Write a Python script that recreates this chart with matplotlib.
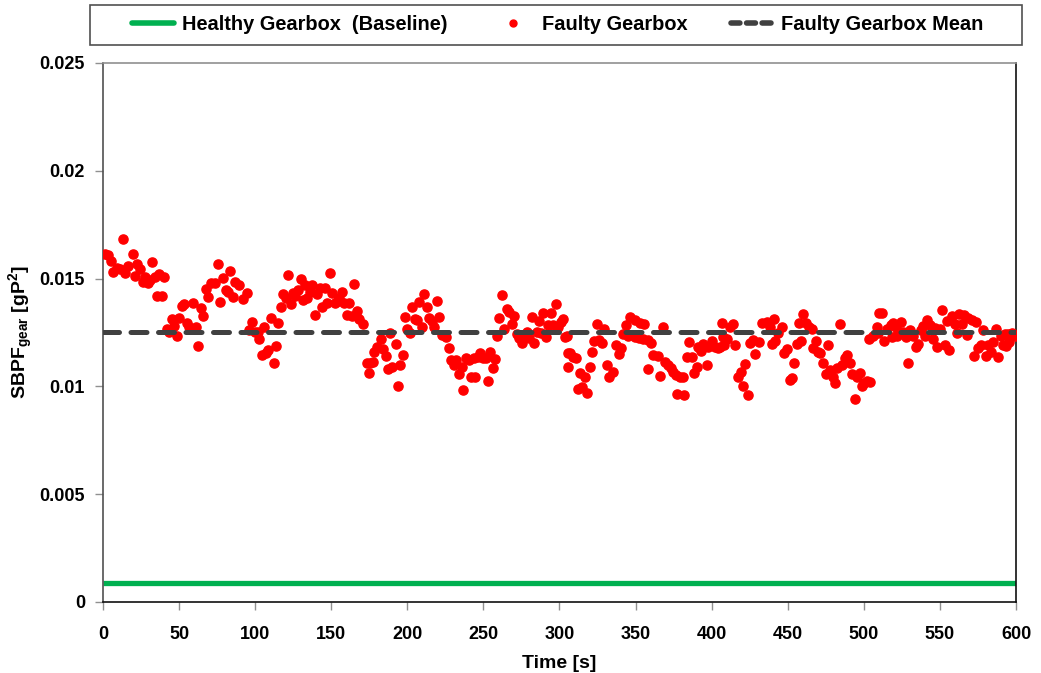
import numpy as np
import matplotlib
matplotlib.use("Agg")
import matplotlib.pyplot as plt
from matplotlib.lines import Line2D
from matplotlib.patches import Rectangle
from matplotlib import font_manager

# ─── Data ─────────────────────────────────────────────────────────────────────
HEALTHY_LEVEL = 0.0009

faulty_t = [
    1.3, 3.5, 5.3, 6.8, 9.0, 11.2, 12.9, 14.5, 16.7, 19.5, 21.0, 22.6, 24.3, 26.1, 27.6,
    29.8, 30.9, 32.4, 34.2, 35.3, 37.0, 38.6, 40.3, 41.8, 43.4, 45.1, 46.7, 48.4, 49.9,
    51.7, 53.5, 55.0, 56.7, 58.9, 60.9, 62.6, 64.2, 65.9, 67.7, 68.8, 70.8, 73.6, 75.4,
    76.9, 78.6, 80.8, 82.4, 83.5, 85.2, 86.8, 89.6, 91.8, 94.4, 95.9, 97.7, 99.9, 101.6,
    102.5, 104.3, 106.0, 106.9, 108.7, 110.4, 112.4, 113.7, 115.2, 117.0, 118.5, 120.1,
    121.8, 123.3, 124.7, 126.2, 127.9, 129.9, 131.7, 132.8, 134.3, 136.0, 137.6, 139.3,
    140.9, 142.6, 144.2, 145.9, 147.0, 149.0, 150.7, 152.5, 154.2, 155.3, 156.9, 158.6,
    160.1, 161.9, 163.4, 165.0, 166.7, 168.5, 171.1, 173.3, 174.8, 175.5, 177.7, 177.9,
    179.9, 182.5, 184.2, 185.8, 187.1, 188.6, 190.2, 192.3, 193.7, 195.2, 197.0, 198.5,
    200.0, 201.8, 203.3, 205.0, 206.5, 207.8, 209.8, 210.9, 212.7, 214.4, 215.9, 217.5,
    219.2, 220.8, 222.5, 225.1, 227.3, 228.6, 230.6, 231.7, 233.9, 235.7, 236.7, 238.3,
    240.7, 241.6, 243.8, 244.4, 246.6, 247.7, 249.5, 251.6, 252.7, 254.3, 256.0, 257.6,
    259.1, 260.4, 262.2, 263.7, 265.2, 267.0, 268.5, 270.3, 271.8, 273.6, 275.1, 276.8,
    278.4, 280.1, 281.7, 283.2, 285.0, 286.5, 287.8, 289.3, 291.1, 292.6, 294.4, 295.9,
    297.4, 299.2, 300.7, 302.5, 303.8, 304.7, 305.3, 305.7, 306.9, 309.1, 310.6, 311.9,
    313.5, 314.6, 316.7, 318.3, 320.0, 321.6, 322.9, 324.6, 326.2, 328.1, 329.4, 331.0,
    332.7, 335.4, 337.1, 339.1, 340.4, 341.9, 343.7, 344.8, 346.3, 349.6, 349.8, 352.2,
    352.9, 355.1, 355.5, 357.9, 358.4, 360.1, 361.6, 364.5, 366.0, 367.8, 369.3, 371.5,
    373.3, 374.8, 376.3, 377.4, 379.2, 381.4, 382.0, 383.6, 385.3, 386.8, 388.6, 390.1,
    391.2, 393.0, 394.5, 396.7, 397.8, 400.0, 402.2, 404.4, 405.5, 406.6, 407.7, 408.1,
    409.9, 412.1, 414.3, 415.4, 417.5, 419.1, 420.4, 421.9, 423.7, 425.2, 427.4, 428.5,
    431.3, 432.9, 436.2, 438.4, 439.5, 441.2, 441.6, 443.8, 446.0, 447.8, 449.3, 451.5,
    452.6, 454.1, 455.9, 457.4, 458.7, 460.3, 462.0, 464.2, 465.7, 466.8, 468.4, 469.7,
    471.2, 473.4, 475.2, 476.3, 477.8, 479.5, 481.1, 482.6, 484.4, 485.5, 487.6, 489.2,
    490.9, 492.0, 494.2, 495.8, 497.5, 498.6, 500.1, 501.9, 503.6, 504.0, 506.3, 508.5,
    509.6, 510.2, 511.7, 513.2, 515.0, 517.6, 518.2, 519.3, 521.1, 521.5, 522.6, 524.4,
    525.9, 527.7, 529.2, 530.3, 532.5, 534.0, 535.3, 537.3, 538.6, 540.1, 541.7, 543.4,
    545.2, 546.7, 548.2, 550.0, 551.5, 553.3, 554.8, 556.1, 557.7, 559.9, 561.4, 562.7,
    564.2, 565.8, 567.5, 568.6, 570.8, 572.3, 573.7, 575.2, 576.7, 578.5, 580.2, 581.8,
    583.3, 585.0, 586.6, 588.1, 589.9, 591.6, 592.7, 593.4, 594.9, 595.6, 597.1, 599.3,
]

faulty_v = [
    0.01613, 0.01609, 0.01583, 0.01532, 0.01548, 0.01543, 0.01682, 0.01524, 0.01558,
    0.01613, 0.01512, 0.01566, 0.01543, 0.01486, 0.01509, 0.01481, 0.01493, 0.01575,
    0.01509, 0.01421, 0.01521, 0.01421, 0.01506, 0.01265, 0.01254, 0.01311, 0.01280,
    0.01234, 0.01319, 0.01373, 0.01382, 0.01295, 0.01277, 0.01385, 0.01274, 0.01187,
    0.01362, 0.01326, 0.01450, 0.01416, 0.01478, 0.01481, 0.01566, 0.01393, 0.01501,
    0.01447, 0.01436, 0.01537, 0.01416, 0.01486, 0.01470, 0.01404, 0.01435, 0.01262,
    0.01300, 0.01254, 0.01254, 0.01218, 0.01146, 0.01274, 0.01153, 0.01169, 0.01316,
    0.01110, 0.01189, 0.01293, 0.01370, 0.01429, 0.01408, 0.01517, 0.01382, 0.01435,
    0.01419, 0.01447, 0.01497, 0.01401, 0.01470, 0.01408, 0.01439, 0.01470, 0.01331,
    0.01429, 0.01455, 0.01370, 0.01455, 0.01388, 0.01524, 0.01432, 0.01385, 0.01398,
    0.01408, 0.01439, 0.01388, 0.01331, 0.01388, 0.01326, 0.01475, 0.01350, 0.01311,
    0.01288, 0.01110, 0.01061, 0.01110, 0.01115, 0.01161, 0.01181, 0.01218, 0.01172,
    0.01141, 0.01079, 0.01249, 0.01091, 0.01197, 0.01002, 0.01099, 0.01146, 0.01323,
    0.01265, 0.01249, 0.01367, 0.01311, 0.01308, 0.01393, 0.01274, 0.01429, 0.01367,
    0.01316, 0.01305, 0.01274, 0.01396, 0.01320, 0.01238, 0.01228, 0.01177, 0.01122,
    0.01099, 0.01122, 0.01056, 0.01091, 0.00983, 0.01130, 0.01122, 0.01045, 0.01130,
    0.01045, 0.01138, 0.01156, 0.01133, 0.01130, 0.01027, 0.01161, 0.01087, 0.01126,
    0.01234, 0.01316, 0.01424, 0.01265, 0.01359, 0.01346, 0.01288, 0.01326, 0.01243,
    0.01223, 0.01200, 0.01234, 0.01254, 0.01223, 0.01320, 0.01200, 0.01254, 0.01302,
    0.01246, 0.01339, 0.01228, 0.01285, 0.01339, 0.01285, 0.01382, 0.01277, 0.01300,
    0.01311, 0.01230, 0.01234, 0.01088, 0.01153, 0.01153, 0.01138, 0.01130, 0.00986,
    0.01061, 0.00999, 0.01042, 0.00971, 0.01091, 0.01161, 0.01212, 0.01288, 0.01215,
    0.01200, 0.01265, 0.01099, 0.01045, 0.01068, 0.01192, 0.01150, 0.01177, 0.01243,
    0.01285, 0.01234, 0.01320, 0.01308, 0.01230, 0.01223, 0.01295, 0.01218, 0.01288,
    0.01215, 0.01079, 0.01203, 0.01146, 0.01141, 0.01048, 0.01274, 0.01115, 0.01099,
    0.01084, 0.01068, 0.01053, 0.00965, 0.01042, 0.01042, 0.00960, 0.01135, 0.01207,
    0.01135, 0.01063, 0.01091, 0.01181, 0.01166, 0.01197, 0.01099, 0.01184, 0.01212,
    0.01181, 0.01177, 0.01181, 0.01293, 0.01228, 0.01192, 0.01218, 0.01277, 0.01288,
    0.01192, 0.01045, 0.01068, 0.01002, 0.01102, 0.00960, 0.01203, 0.01215, 0.01150,
    0.01207, 0.01295, 0.01300, 0.01274, 0.01197, 0.01311, 0.01212, 0.01246, 0.01274,
    0.01153, 0.01172, 0.01030, 0.01037, 0.01110, 0.01197, 0.01295, 0.01212, 0.01336,
    0.01293, 0.01277, 0.01265, 0.01177, 0.01212, 0.01161, 0.01156, 0.01107, 0.01057,
    0.01192, 0.01076, 0.01045, 0.01017, 0.01084, 0.01288, 0.01099, 0.01130, 0.01146,
    0.01110, 0.01057, 0.00940, 0.01045, 0.01063, 0.01002, 0.01014, 0.01026, 0.01218,
    0.01022, 0.01234, 0.01274, 0.01246, 0.01339, 0.01339, 0.01212, 0.01265, 0.01285,
    0.01230, 0.01293, 0.01277, 0.01234, 0.01254, 0.01300, 0.01254, 0.01230, 0.01107,
    0.01262, 0.01234, 0.01181, 0.01197, 0.01262, 0.01280, 0.01234, 0.01308, 0.01285,
    0.01218, 0.01269, 0.01184, 0.01265, 0.01354, 0.01192, 0.01305, 0.01169, 0.01326,
    0.01289, 0.01246, 0.01336, 0.01289, 0.01331, 0.01238, 0.01316, 0.01308, 0.01141,
    0.01300, 0.01177, 0.01192, 0.01262, 0.01141, 0.01192, 0.01161, 0.01207, 0.01265,
    0.01135, 0.01234, 0.01192, 0.01243, 0.01187, 0.01243, 0.01207, 0.01246, 0.01234,
]

x_ticks = [0, 50, 100, 150, 200, 250, 300, 350, 400, 450, 500, 550, 600]
y_ticks = [0, 0.005, 0.01, 0.015, 0.02, 0.025]
y_ticklabels = ["0", "0.005", "0.01", "0.015", "0.02", "0.025"]

# ─── Style ────────────────────────────────────────────────────────────────────
installed = {f.name for f in font_manager.fontManager.ttflist}
FONT = "Liberation Sans Narrow" if "Liberation Sans Narrow" in installed else "Liberation Sans"

plt.rcParams.update({
    "font.family": FONT,
    "font.weight": "bold",
    "mathtext.fontset": "custom",
    "mathtext.rm": f"{FONT}:bold",
    "mathtext.bf": f"{FONT}:bold",
    "mathtext.it": f"{FONT}:bold",
})

GREEN = "#00b050"
RED = "#ff0000"
DARK = "#404040"

fig = plt.figure(figsize=(10.41, 6.73), dpi=100)
ax = fig.add_axes([0.0989, 0.1055, 0.8771, 0.8009])

t = np.array(faulty_t)
v = np.array(faulty_v)
mean_v = v.mean()

ax.plot([0, 600], [HEALTHY_LEVEL, HEALTHY_LEVEL], color=GREEN, lw=3.8,
        solid_capstyle="butt", zorder=2)
ax.plot(t, v, ls="none", marker="o", ms=6.6, color=RED, mec=RED, zorder=3)
ax.plot([0, 600], [mean_v, mean_v], color=DARK, lw=3.6, dashes=(3.2, 2.3),
        dash_capstyle="round", zorder=4)

ax.set_xlim(0, 600)
ax.set_ylim(0, 0.025)
ax.set_xticks(x_ticks)
ax.set_yticks(y_ticks)
ax.set_yticklabels(y_ticklabels)
ax.tick_params(axis="both", direction="out", length=6, width=1, color="#909090",
               labelsize=13)
ax.tick_params(axis="x", pad=11)
ax.tick_params(axis="y", pad=7)
for lbl in ax.get_xticklabels() + ax.get_yticklabels():
    lbl.set_fontweight("bold")

# axis frame: dark left/bottom/right, light top
ax.spines["left"].set_color("#505050")
ax.spines["bottom"].set_color("#101010")
ax.spines["right"].set_color("#101010")
ax.spines["top"].set_color("#909090")
for s in ax.spines.values():
    s.set_linewidth(1.2)

ax.set_xlabel("Time [s]", fontsize=14, fontweight="bold", labelpad=9)
ax.set_ylabel(r"SBPF$_{\mathrm{gear}}$ [gP$^{\mathrm{2}}$]", fontsize=14,
              fontweight="bold")
ax.yaxis.set_label_coords(-0.074, 0.5)

# legend box across the top
fig.patches.append(Rectangle((0.0865, 0.9331), 0.8953, 0.0595,
                             transform=fig.transFigure, facecolor="white",
                             edgecolor="#505050", lw=1.2, zorder=0))

handles = [
    Line2D([], [], color=GREEN, lw=4, solid_capstyle="round"),
    Line2D([], [], ls="none", marker="o", ms=5, color=RED),
    Line2D([], [], color=DARK, lw=4, dashes=(1.6, 1.2), dash_capstyle="round"),
]
labels = ["Healthy Gearbox  (Baseline)", "Faulty Gearbox", "Faulty Gearbox Mean"]
fig.legend(handles, labels, loc="center", bbox_to_anchor=(0.536, 0.963),
           ncol=3, frameon=False,
           prop={"family": FONT, "weight": "bold", "size": 14.4},
           handlelength=2.1, columnspacing=2.2, handletextpad=0.4)

fig.savefig("out.png", dpi=100)
